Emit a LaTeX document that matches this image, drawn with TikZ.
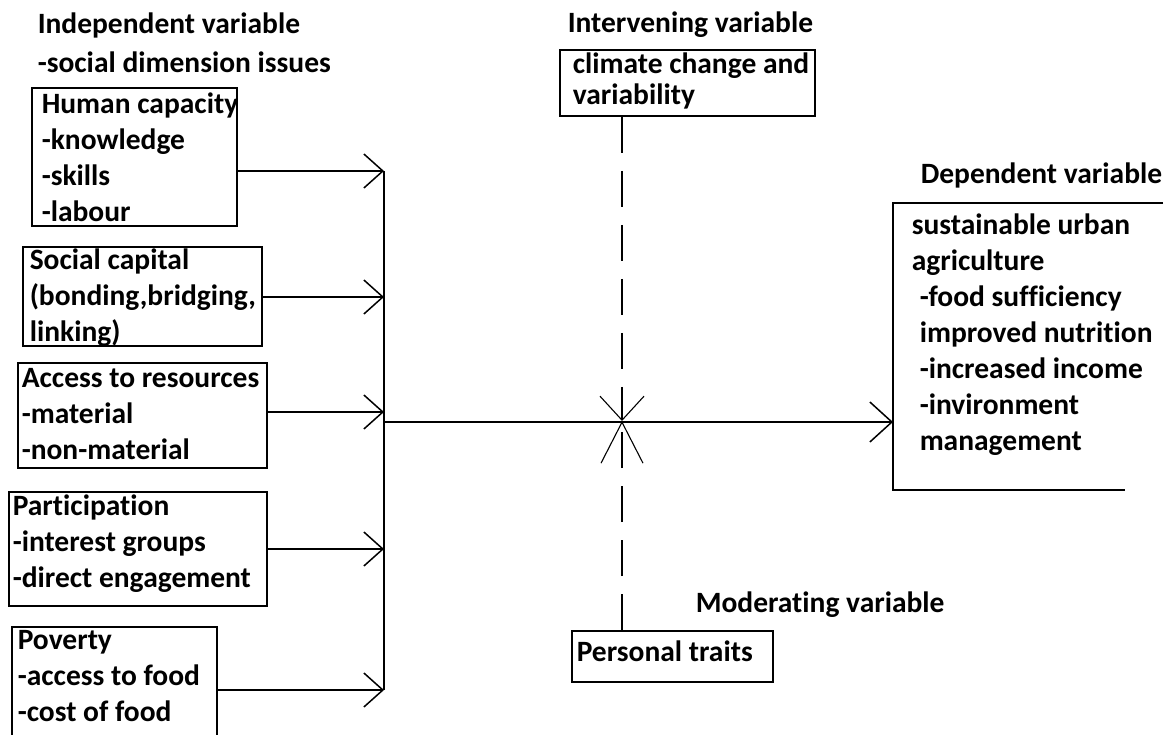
\documentclass[tikz,border=0pt]{standalone}
\usepackage{fontspec}
\setmainfont{Carlito}[Ligatures=NoCommon]
\usetikzlibrary{arrows.meta}
\begin{document}
\begin{tikzpicture}[x=1pt,y=-1pt,
  line width=1.5pt,
  box/.style={draw,line width=1.6pt,inner sep=0pt},
  txt/.style={font=\fontsize{29.5pt}{36pt}\selectfont\bfseries,inner sep=0pt,anchor=base west,align=left},
  arr/.style={-{Straight Barb[length=19pt,width=34pt]}},
  dsh/.style={dash pattern=on 36pt off 18pt}
]
\useasboundingbox (0,0) rectangle (1175,734);

% headings
\node[txt] (hind) at (37,33) {Independent variable};
\node[txt] (hsoc) at (37,72) {-social dimension issues};
\node[txt] (hint) at (567,32) {Intervening variable};
\node[txt] (hdep) at (920,183) {Dependent variable};
\node[txt] (hmod) at (695,612) {Moderating variable};

% independent boxes (text nodes anchored at the baseline of their last line)
\node[box,minimum width=205pt,minimum height=138pt] (b1) at (134.5,157) {};
\node[txt] (t1) at (41,221) {Human capacity\\-knowledge\\-skills\\-labour};
\node[box,minimum width=239pt,minimum height=99pt] (b2) at (142.5,296.5) {};
\node[txt] (t2) at (29,341) {Social capital\\(bonding,bridging,\\linking)};
\node[box,minimum width=249pt,minimum height=105pt] (b3) at (142.5,415.5) {};
\node[txt] (t3) at (21,459) {Access to resources\\-material\\-non-material};
\node[box,minimum width=258pt,minimum height=114pt] (b4) at (138,549) {};
\node[txt] (t4) at (12,587) {Participation\\-interest groups\\-direct engagement};
\node[box,minimum width=205pt,minimum height=118pt] (b5) at (114.5,686) {};
\node[txt] (t5) at (17,721) {Poverty\\-access to food\\-cost of food};

% intervening and moderating
\node[box,minimum width=255pt,minimum height=66pt] (clim) at (687.5,83) {};
\node[txt,font=\fontsize{29.5pt}{31pt}\selectfont\bfseries] (tclim) at (572,104) {climate change and\\variability};
\node[box,minimum width=201pt,minimum height=51pt] (pt) at (672.5,656.5) {};
\node[txt] (tpt) at (576,661) {Personal traits};

% dependent (open box)
\coordinate (dtr) at (1163,203);
\coordinate (dtl) at (893,203);
\coordinate (dbl) at (893,490);
\coordinate (dbr) at (1125,490);
\draw[line width=1.6pt] (dtr) -- (dtl) -- (dbl) -- (dbr);
\node[txt] (tdep1) at (911,270) {sustainable urban\\agriculture};
\node[txt] (tdep2) at (919,450) {-food sufficiency\\improved nutrition\\-increased income\\-invironment\\management};

% bus
\coordinate (j1) at (384,171);
\coordinate (j2) at (384,297);
\coordinate (j3) at (384,412);
\coordinate (j4) at (384,549);
\coordinate (j5) at (384,690);
\coordinate (j0) at (384,422);
\draw (j1) -- (j5);
\draw[arr] (b1.east |- j1) -- (j1);
\draw[arr] (b2.east |- j2) -- (j2);
\draw[arr] (b3.east |- j3) -- (j3);
\draw[arr] (b4.east |- j4) -- (j4);
\draw[arr] (b5.east |- j5) -- (j5);

% main arrow
\coordinate (dep) at (893,422);
\coordinate (x) at (622,421);
\draw[-{Straight Barb[length=22pt,width=40pt]}] (j0) -- (dep);

% dashed arrows
\draw[dsh,-{Straight Barb[length=24pt,width=44pt,line width=1.1pt]}] (x |- clim.south) -- (x);
\draw[dsh,-{Straight Barb[length=41pt,width=42pt,line width=1.1pt]}] (x |- pt.north) -- (x);
\end{tikzpicture}
\end{document}
